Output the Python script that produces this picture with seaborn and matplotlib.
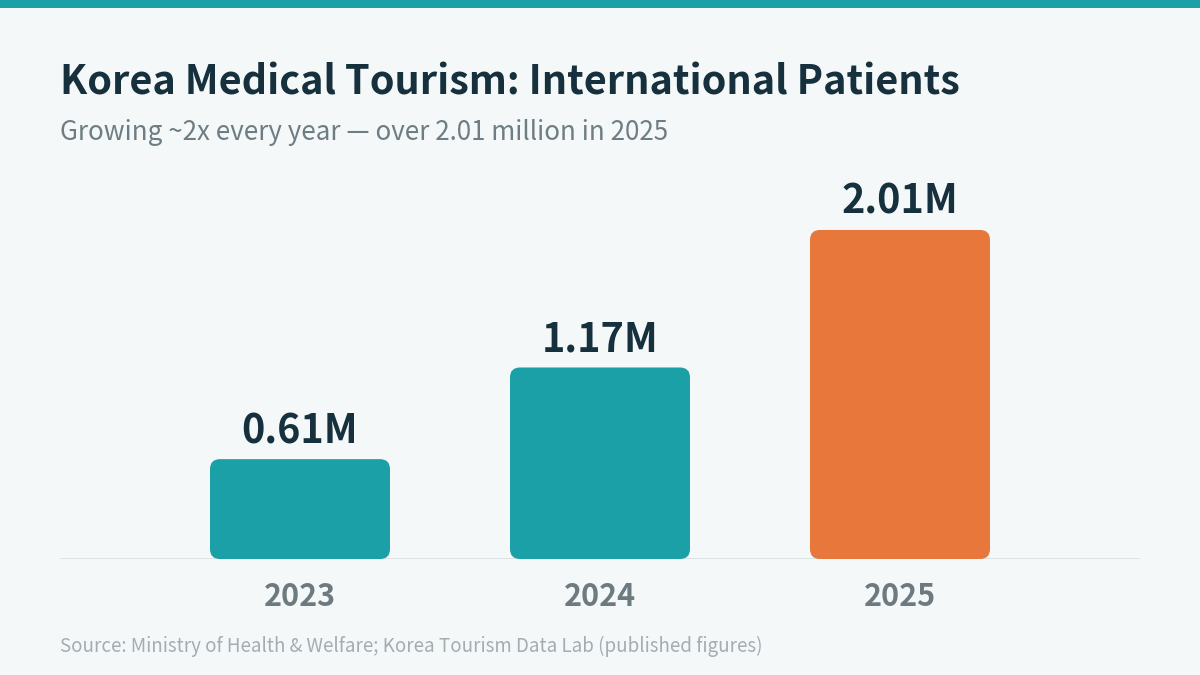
import matplotlib.pyplot as plt
from matplotlib.patches import FancyBboxPatch
import pandas as pd
import seaborn as sns

# Data
years = ['2023', '2024', '2025']
patients_m = [0.61, 1.17, 2.01]
labels = ['0.61M', '1.17M', '2.01M']
bar_colors = ['#1ba0a7', '#1ba0a7', '#e8773b']

df = pd.DataFrame({'Year': years, 'Patients': patients_m})

sns.set_style('white')
plt.rcParams['font.family'] = ['Noto Sans CJK KR', 'DejaVu Sans']

bg = '#f4f8f9'
fig = plt.figure(figsize=(12, 6.75), dpi=100, facecolor=bg)
ax = fig.add_axes([0.05, 1 - 559 / 675, 0.90, 399 / 675])
ax.set_facecolor(bg)

sns.barplot(data=df, x='Year', y='Patients', hue='Year', palette=bar_colors,
            width=0.6, legend=False, ax=ax, saturation=1)

ax.set_xlim(-0.8, 2.8)
ax.set_ylim(0, 399 / 163.7)

# Swap plain bars for rounded ones
x_per_px = 3.6 / 1080
y_per_px = (399 / 163.7) / 399
for p in list(ax.patches):
    x, y = p.get_x(), p.get_y()
    w, h = p.get_width(), p.get_height()
    fc = p.get_facecolor()
    p.remove()
    ax.add_patch(FancyBboxPatch((x, y), w, h,
                                boxstyle=f'round,pad=0,rounding_size={10 * x_per_px}',
                                mutation_aspect=y_per_px / x_per_px,
                                facecolor=fc, edgecolor='none', zorder=2))

# Value labels
for i, (v, lab) in enumerate(zip(patients_m, labels)):
    ax.text(i, v + 7 * y_per_px, lab, ha='center', va='bottom',
            fontsize=28.5, fontweight='bold', color='#16313d')

ax.axhline(0, color='#dae1e4', lw=2, zorder=1)
sns.despine(ax=ax, left=True, bottom=True)
ax.set_yticks([])
ax.set_xlabel('')
ax.set_ylabel('')
ax.tick_params(axis='x', length=0, pad=16)
for t in ax.get_xticklabels():
    t.set_fontsize(22)
    t.set_fontweight('bold')
    t.set_color('#6d7b80')

# Top stripe
fig.add_artist(plt.Rectangle((0, 1 - 8 / 675), 1, 8 / 675, transform=fig.transFigure,
                             facecolor='#1ba0a7', edgecolor='none'))

fig.text(0.05, 1 - 83 / 675, 'Korea Medical Tourism: International Patients',
         fontsize=28.5, fontweight='bold', color='#16313d', va='center')
fig.text(0.05, 1 - 132 / 675, 'Growing ~2x every year \u2014 over 2.01 million in 2025',
         fontsize=18.7, color='#6e7d83', va='center')
fig.text(0.05, 1 - 646 / 675,
         'Source: Ministry of Health & Welfare; Korea Tourism Data Lab (published figures)',
         fontsize=13.5, color='#a3adb2', va='center')

fig.savefig('out.png', dpi=100, facecolor=bg)
